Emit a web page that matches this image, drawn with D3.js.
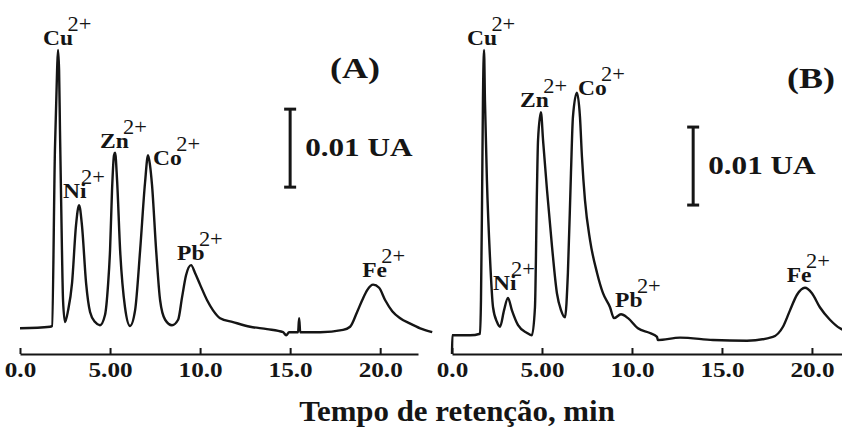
<!DOCTYPE html>
<html>
<head>
<meta charset="utf-8">
<title>Cromatogramas</title>
<script src="https://d3js.org/d3.v7.min.js"></script>
<style>
  body { margin: 0; background: #fff; }
</style>
</head>
<body>
<script>

// ---- data (time in min, absorbance in mUA above baseline) ----
var ions = ["Cu", "Ni", "Zn", "Co", "Pb", "Fe"];
var tickValues = [0, 5, 10, 15, 20];
var tickLabels = ["0.0", "5.00", "10.0", "15.0", "20.0"];
var scaleBarUA = 10;   // 0.01 UA

var timeA = [0.00, 1.67, 1.78, 1.94, 2.06, 2.11, 2.17, 2.22, 2.33, 2.39, 2.50, 2.67, 2.89, 3.11, 3.28, 3.44,
  3.67, 3.89, 4.17, 4.44, 4.72, 4.89, 5.00, 5.11, 5.22, 5.28, 5.39, 5.56, 5.83, 6.11, 6.39, 6.67, 6.94,
  7.11, 7.22, 7.33, 7.56, 7.78, 8.06, 8.44, 8.78, 9.00, 9.22, 9.50, 9.72, 10.00, 10.39, 10.72, 11.11,
  11.83, 12.78, 13.72, 14.61, 14.78, 14.94, 15.44, 15.50, 15.56, 16.67, 17.94, 18.33, 18.72, 19.00,
  19.28, 19.61, 19.94, 20.28, 20.67, 21.11, 21.67, 22.22, 22.89];
var absA = [0.6, 0.8, 0.9, 23.5, 33.7, 36.3, 33.7, 26.0, 10.6, 4.2, 1.4, 2.9, 6.4, 13.8, 16.4, 13.8,
  6.4, 2.7, 1.4, 1.0, 2.3, 6.2, 10.6, 18.3, 22.8, 23.1, 19.6, 10.6, 3.3, 0.9, 2.9, 10.6, 19.2,
  22.8, 21.5, 19.0, 10.6, 4.2, 1.7, 1.0, 1.7, 4.6, 7.4, 8.7, 7.7, 6.2, 4.2, 2.9, 1.9,
  1.4, 0.8, 0.5, 0.1, -0.3, 0.1, 0.1, 1.9, 0.1, 0.1, 0.4, 0.8, 2.7, 4.2,
  5.5, 6.2, 5.8, 4.2, 2.8, 1.9, 1.2, 0.6, 0.1];

var timeB = [0.00, 0.02, 1.00, 1.56, 1.61, 1.67, 1.72, 1.78, 1.83, 1.94, 2.11, 2.28, 2.50, 2.67, 2.89,
  3.11, 3.33, 3.67, 4.17, 4.44, 4.61, 4.72, 4.78, 4.94, 5.06, 5.28, 5.56, 5.83, 6.06, 6.28, 6.44,
  6.61, 6.72, 6.94, 7.11, 7.22, 7.39, 7.67, 8.06, 8.39, 8.78, 9.00, 9.39, 9.78, 10.33, 11.00,
  11.39, 11.44, 12.67, 14.50, 16.39, 17.83, 18.39, 18.78, 19.17, 19.61, 20.00, 20.44, 21.00,
  21.56, 21.83];
var absB = [-1.8, 0.6, 0.6, 0.8, 5.1, 17.9, 30.8, 37.2, 30.8, 20.5, 10.6, 4.2, 2.3, 1.7, 3.8,
  5.4, 3.8, 1.9, 0.9, 0.6, 4.2, 19.2, 25.6, 29.2, 25.6, 19.2, 11.9, 6.0, 3.8, 2.9, 8.6,
  21.4, 28.6, 31.7, 28.6, 23.5, 17.9, 12.8, 8.6, 6.0, 4.2, 2.8, 3.3, 2.8, 1.5, 0.9,
  0.4, 0.0, 0.3, 0.0, -0.1, 0.4, 1.7, 3.8, 5.8, 6.7, 6.0, 4.2, 2.6,
  1.5, 1.2];

// ---- layout ----
var width = 842, height = 430;
var serif = "'Liberation Serif', 'Times New Roman', serif";
var ink = "#151515";
var axisY = 354;

var panels = [
  { name: "(A)", time: timeA, abs: absA, x0: 20, x1: 418, tMax: 22.1, base: 333,
    title: [355, 78], bar: [15.0, 18.7],
    labels: [[1.28, 36.9], [2.39, 17.3], [4.44, 23.7], [7.39, 21.5], [8.72, 9.4], [19.0, 7.2]] },
  { name: "(B)", time: timeB, abs: absB, x0: 452, x1: 842, tMax: 21.67, base: 340,
    title: [811, 88], bar: [13.4, 17.3],
    labels: [[0.83, 37.8], [2.28, 6.4], [3.78, 29.9], [7.0, 31.4], [9.06, 4.2], [18.6, 7.4]] }
];

var svg = d3.select("body").append("svg")
  .attr("width", width)
  .attr("height", height);

panels.forEach(function(p) {
  var x = d3.scaleLinear().domain([0, p.tMax]).range([p.x0, p.x1]);
  var y = d3.scaleLinear().domain([0, 10]).range([p.base, p.base - 78]);

  // axis
  var axis = d3.axisBottom(x)
    .tickValues(tickValues)
    .tickFormat(function(d, i) { return tickLabels[i]; })
    .tickSizeInner(-6)
    .tickSizeOuter(0)
    .tickPadding(8);

  var g = svg.append("g")
    .attr("transform", "translate(0," + axisY + ")")
    .call(axis);
  g.select(".domain").attr("stroke", ink).attr("stroke-width", 2.2);
  g.selectAll(".tick line").attr("stroke", ink).attr("stroke-width", 2);
  g.selectAll(".tick text")
    .attr("font-family", serif)
    .attr("font-weight", "bold")
    .attr("font-size", 21)
    .attr("fill", ink)
    .attr("transform", "scale(1.2,1)");

  // trace
  var pts = p.time.map(function(t, i) { return [t, p.abs[i]]; });
  var line = d3.line()
    .x(function(d) { return x(d[0]); })
    .y(function(d) { return y(d[1]); })
    .curve(d3.curveMonotoneX);

  svg.append("path")
    .datum(pts)
    .attr("d", line)
    .attr("fill", "none")
    .attr("stroke", ink)
    .attr("stroke-width", 2.4)
    .attr("stroke-linejoin", "round");

  // ion labels
  ions.forEach(function(ion, i) {
    var lx = x(p.labels[i][0]), ly = y(p.labels[i][1]);
    var t = svg.append("text")
      .attr("transform", "translate(" + lx + "," + ly + ") scale(1.12,1)")
      .attr("font-family", serif)
      .attr("fill", ink);
    t.append("tspan").attr("font-weight", "bold").attr("font-size", 21).text(ion);
    t.append("tspan").attr("dx", -5).attr("dy", -14).attr("font-size", 20).text("2+");
  });

  // panel title
  svg.append("text")
    .attr("transform", "translate(" + p.title[0] + "," + p.title[1] + ") scale(1.2,1)")
    .attr("text-anchor", "middle")
    .attr("font-family", serif)
    .attr("font-weight", "bold")
    .attr("font-size", 30)
    .attr("fill", ink)
    .text(p.name);

  // scale bar 0.01 UA
  var bx = x(p.bar[0]), by0 = y(p.bar[1]), by1 = y(p.bar[1] + scaleBarUA);
  var bar = svg.append("g").attr("stroke", ink).attr("stroke-width", 3);
  bar.append("line").attr("x1", bx).attr("x2", bx).attr("y1", by0).attr("y2", by1);
  bar.append("line").attr("x1", bx - 6).attr("x2", bx + 6).attr("y1", by0).attr("y2", by0);
  bar.append("line").attr("x1", bx - 6).attr("x2", bx + 6).attr("y1", by1).attr("y2", by1);

  svg.append("text")
    .attr("transform", "translate(" + (bx + 15) + "," + ((by0 + by1) / 2 + 8) + ") scale(1.2,1)")
    .attr("font-family", serif)
    .attr("font-weight", "bold")
    .attr("font-size", 26)
    .attr("fill", ink)
    .text("0.01 UA");
});

// x title
svg.append("text")
  .attr("transform", "translate(457,421) scale(1.03,1)")
  .attr("text-anchor", "middle")
  .attr("font-family", serif)
  .attr("font-weight", "bold")
  .attr("font-size", 30)
  .attr("fill", ink)
  .text("Tempo de retenção, min");

</script>
</body>
</html>
